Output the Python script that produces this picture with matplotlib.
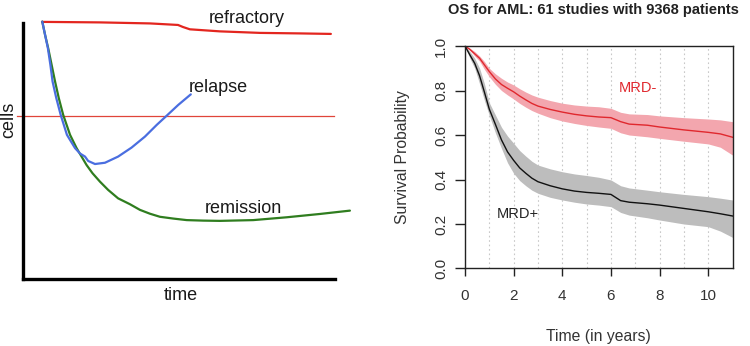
import numpy as np
import matplotlib
matplotlib.use("Agg")
import matplotlib.pyplot as plt

plt.rcParams['font.family'] = ['Liberation Sans', 'DejaVu Sans']

# --- left panel: schematic response curves (time vs cells, arbitrary units) ---
refractory_t = [0.61, 2.47, 4.07, 4.97, 5.13, 5.35, 6.31, 7.6, 8.88, 9.87]
refractory_c = [10.04, 10.02, 9.98, 9.92, 9.84, 9.75, 9.67, 9.61, 9.59, 9.57]

remission_t = [0.62, 0.71, 0.81, 0.92, 1.03, 1.15, 1.29, 1.51, 1.72, 1.88, 2.04, 2.23, 2.47,
               2.73, 3.05, 3.43, 3.75, 4.07, 4.39, 4.82, 5.25, 5.78, 6.31, 7.38, 8.45, 9.52, 10.48]
remission_c = [10.05, 9.53, 9.01, 8.36, 7.71, 7.06, 6.41, 5.63, 5.11, 4.78, 4.45, 4.13, 3.80,
               3.48, 3.15, 2.92, 2.70, 2.55, 2.43, 2.36, 2.30, 2.28, 2.27, 2.30, 2.41, 2.54, 2.67]

relapse_t = [0.62, 0.71, 0.80, 0.88, 0.95, 1.07, 1.21, 1.41, 1.67, 1.83, 1.99, 2.09, 2.31,
             2.63, 3.05, 3.48, 3.91, 4.29, 4.61, 4.98, 5.38]
relapse_c = [10.05, 9.53, 9.01, 8.36, 7.71, 7.06, 6.41, 5.63, 5.11, 4.90, 4.78, 4.61, 4.49,
             4.54, 4.78, 5.13, 5.56, 6.02, 6.38, 6.80, 7.21]

threshold_c = 6.37
threshold_span = (-0.19, 9.97)

# --- right panel: OS for AML, MRD- vs MRD+ (years vs survival probability) ---
years = [0, 0.2, 0.4, 0.6, 0.8, 1.0, 1.25, 1.5, 1.75, 2.0, 2.25, 2.5, 2.75, 3.0, 3.5,
         4.0, 4.5, 5.0, 5.5, 6.0, 6.4, 6.75, 7.5, 8.0, 9.0, 10.0, 10.5, 11.0]

mrd_neg = [1.0, 0.985, 0.965, 0.945, 0.915, 0.885, 0.852, 0.827, 0.81, 0.794, 0.775, 0.758, 0.742, 0.73, 0.715,
           0.703, 0.693, 0.686, 0.681, 0.678, 0.66, 0.649, 0.644, 0.636, 0.623, 0.612, 0.605, 0.59]
mrd_neg_hi = [1.0, 0.99, 0.975, 0.955, 0.93, 0.90, 0.875, 0.855, 0.838, 0.825, 0.808, 0.793, 0.78, 0.77, 0.755,
              0.743, 0.735, 0.73, 0.727, 0.72, 0.702, 0.695, 0.692, 0.686, 0.678, 0.672, 0.668, 0.66]
mrd_neg_lo = [1.0, 0.98, 0.955, 0.932, 0.895, 0.862, 0.828, 0.80, 0.78, 0.762, 0.742, 0.725, 0.71, 0.698, 0.678,
              0.663, 0.652, 0.643, 0.636, 0.63, 0.61, 0.60, 0.592, 0.585, 0.572, 0.56, 0.545, 0.51]

mrd_pos = [1.0, 0.96, 0.922, 0.866, 0.792, 0.716, 0.648, 0.578, 0.524, 0.486, 0.452, 0.428, 0.406, 0.39, 0.372,
           0.358, 0.348, 0.342, 0.338, 0.333, 0.305, 0.298, 0.291, 0.285, 0.27, 0.255, 0.246, 0.236]
mrd_pos_hi = [1.0, 0.975, 0.945, 0.90, 0.83, 0.745, 0.69, 0.635, 0.595, 0.563, 0.53, 0.505, 0.482, 0.465, 0.448,
              0.435, 0.425, 0.418, 0.41, 0.398, 0.372, 0.362, 0.352, 0.345, 0.333, 0.323, 0.316, 0.308]
mrd_pos_lo = [1.0, 0.945, 0.90, 0.83, 0.755, 0.688, 0.61, 0.54, 0.475, 0.428, 0.395, 0.372, 0.352, 0.338, 0.32,
              0.308, 0.298, 0.29, 0.285, 0.278, 0.252, 0.24, 0.228, 0.218, 0.20, 0.188, 0.168, 0.14]

x_ticks = [0, 2, 4, 6, 8, 10]
grid_years = [1, 2, 3, 4, 5, 6, 7, 8, 9, 10]
y_ticks = [0.0, 0.2, 0.4, 0.6, 0.8, 1.0]
y_tick_labels = ['0.0', '0.2', '0.4', '0.6', '0.8', '1.0']

fig = plt.figure(figsize=(7.5, 3.46), dpi=100)

# ================= left schematic =================
ax1 = fig.add_axes([0.0181, 0.1714, 0.4576, 0.792])
ax1.set_xlim(-0.3, 10.7)
ax1.set_ylim(-0.3, 10.4)
for s in ['top', 'right']:
    ax1.spines[s].set_visible(False)
for s in ['left', 'bottom']:
    ax1.spines[s].set_position(('data', 0))
    ax1.spines[s].set_bounds(0, 10)
    ax1.spines[s].set_linewidth(2.4)
    ax1.spines[s].set_color('black')
ax1.set_xticks([])
ax1.set_yticks([])
ax1.patch.set_alpha(0)

line_kw = dict(lw=1.6, clip_on=False, solid_joinstyle='round', solid_capstyle='round')
ax1.plot(threshold_span, [threshold_c, threshold_c], color='#e0453a', lw=0.9, clip_on=False)
ax1.plot(refractory_t, refractory_c, color='#e3261f', **line_kw)
ax1.plot(remission_t, remission_c, color='#2f7d1f', **line_kw)
ax1.plot(relapse_t, relapse_c, color='#4a6ee0', **line_kw)

txt = dict(fontsize=13, color='#1a1a1a', ha='center', va='center')
ax1.text(7.18, 10.16, 'refractory', **txt)
ax1.text(6.25, 7.46, 'relapse', **txt)
ax1.text(7.08, 2.77, 'remission', **txt)
ax1.text(5.06, -0.66, 'time', **txt)
ax1.text(-0.45, 6.2, 'cells', rotation=90, **txt)

# ================= right KM plot =================
ax2 = fig.add_axes([0.62, 0.224, 0.3567, 0.643])
ax2.set_xlim(0, 11)
ax2.set_ylim(0, 1)

for g in grid_years:
    ax2.axvline(g, color='#c8c8c8', ls=(0, (1.5, 2.5)), lw=0.8, zorder=0)

ax2.fill_between(years, mrd_neg_lo, mrd_neg_hi, color='#f3a6ae', lw=0, zorder=1)
ax2.fill_between(years, mrd_pos_lo, mrd_pos_hi, color='#bdbdbd', lw=0, zorder=1)
ax2.plot(years, mrd_neg, color='#e0282e', lw=1.0, zorder=2)
ax2.plot(years, mrd_pos, color='#111111', lw=1.0, zorder=2)

ax2.set_xticks(x_ticks)
ax2.set_yticks(y_ticks)
ax2.set_yticklabels(y_tick_labels, rotation=90, va='center')
ax2.tick_params(direction='out', length=7, width=1.0, color='#222222',
                labelsize=11, labelcolor='#333333')
ax2.tick_params(axis='x', length=6, pad=9)
ax2.tick_params(axis='y', pad=5)
for s in ax2.spines.values():
    s.set_linewidth(1.0)
    s.set_color('#222222')

ax2.text(7.12, 0.813, 'MRD-', color='#e0282e', fontsize=10.5, ha='center', va='center')
ax2.text(2.19, 0.247, 'MRD+', color='#222222', fontsize=10.5, ha='center', va='center')

fig.text(593 / 750, 0.971, 'OS for AML: 61 studies with 9368 patients', fontsize=10.5,
         fontweight='bold', color='#222222', ha='center', va='center')
fig.text(402 / 750, 1 - 157 / 346, 'Survival Probability', rotation=90, fontsize=11.3,
         color='#333333', ha='center', va='center')
fig.text(598.7 / 750, 1 - 337 / 346, 'Time (in years)', fontsize=11.3,
         color='#333333', ha='center', va='center')

fig.savefig('out.png', dpi=100)
